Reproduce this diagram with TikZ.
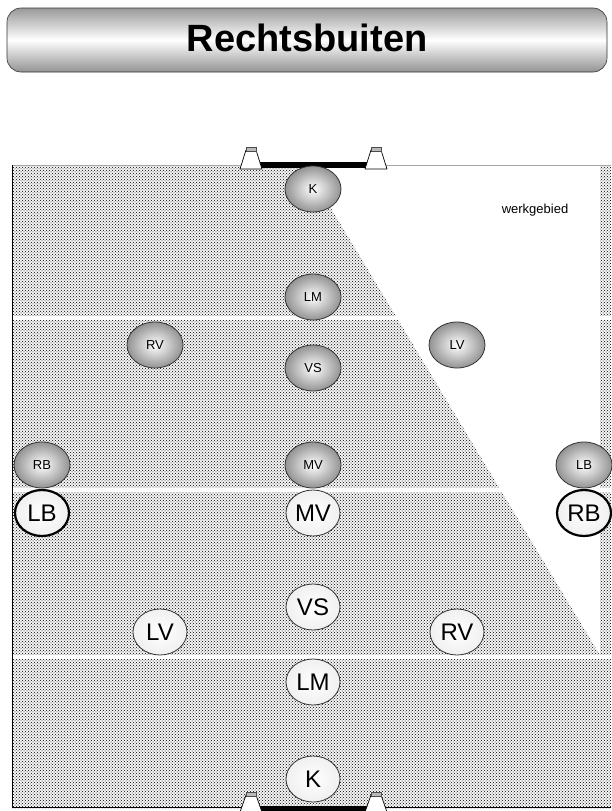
\documentclass[tikz,border=0pt]{standalone}
\usepackage{fontspec}
\setmainfont{Liberation Sans}
\usetikzlibrary{patterns,shapes.geometric}

\tikzset{
  opp/.style={ellipse, minimum width=56pt, minimum height=46pt, inner sep=0pt,
    draw=black!80, line width=0.8pt, inner color=white, outer color=gray!85,
    font=\fontsize{13}{13}\selectfont},
  own/.style={ellipse, minimum width=54pt, minimum height=46pt, inner sep=0pt,
    draw=black!80, line width=0.8pt, inner color=white, outer color=gray!12,
    font=\fontsize{24}{24}\selectfont},
  ownwing/.style={own, draw=black, line width=2.2pt},
  cone/.style={fill=white, draw=black, line width=0.7pt},
  conecap/.style={fill=gray!55, draw=black!70, line width=0.5pt},
  fieldfill/.style={pattern=crosshatch dots, pattern color=black},
  gap/.style={fill=white},
}

\begin{document}
\begin{tikzpicture}[x=1pt, y=-1pt]
  \useasboundingbox (0,0) rectangle (611,811);

  % title bar
  \node[draw=gray!40!black, line width=0.6pt, rounded corners=14pt,
        top color=gray!80, bottom color=gray!85, middle color=white,
        minimum width=600pt, minimum height=64pt, inner sep=0pt]
        (titlebar) at (307,40) {};
  \node[font=\fontsize{38}{38}\selectfont\bfseries] (title) at (307,38) {Rechtsbuiten};

  % pitch surface
  \fill[gray!8] (12,165) rectangle (611,808);
  \fill[fieldfill] (12,165) rectangle (611,808);
  % white working area
  \fill[white] (305,165) -- (600,165) -- (600,655) -- cycle;
  % white gaps between the zones
  \fill[gap] (12,316) rectangle (611,319.5);
  \fill[gap] (12,488) rectangle (611,491.5);
  \fill[gap] (12,655) rectangle (611,658.5);

  % pitch borders
  \draw[gray!70, line width=1pt] (12,165) -- (611,165);
  \draw[black, line width=1.2pt] (12.6,165) -- (12.6,807.4) -- (611,807.4);

  % goals
  \fill[black] (260,162) -- (367,162) -- (367,167.5) -- (260,167.5) -- cycle;
  \fill[black] (260,806) -- (367,806) -- (367,811) -- (260,811) -- cycle;

  % cones
  \foreach \cx in {251,376} {
    \draw[cone] (\cx-11,169) -- (\cx-5,150) -- (\cx+5,150) -- (\cx+11,169) -- cycle;
    \draw[conecap] (\cx-5,147.5) rectangle (\cx+5,151.5);
    \draw[cone] (\cx-12,815) -- (\cx-5,795) -- (\cx+5,795) -- (\cx+12,815);
    \draw[conecap] (\cx-5,792.5) rectangle (\cx+5,796.5);
  }

  \node[font=\fontsize{13}{13}\selectfont] (werk) at (535,210) {werkgebied};

  % opponents
  \node[opp] (oK)  at (313,189) {K};
  \node[opp] (oLM) at (313,297) {LM};
  \node[opp] (oRV) at (155,345) {RV};
  \node[opp] (oLV) at (457,345) {LV};
  \node[opp] (oVS) at (313,368) {VS};
  \node[opp] (oRB) at (42,465) {RB};
  \node[opp] (oMV) at (313,465) {MV};
  \node[opp] (oLB) at (584,465) {LB};

  % own team
  \node[ownwing] (pLB) at (42,513)  {LB};
  \node[own]     (pMV) at (313,513) {MV};
  \node[ownwing] (pRB) at (584,513) {RB};
  \node[own]     (pVS) at (313,607) {VS};
  \node[own]     (pLV) at (160,632) {LV};
  \node[own]     (pRV) at (457,632) {RV};
  \node[own]     (pLM) at (313,682) {LM};
  \node[own]     (pK)  at (313,779) {K};
\end{tikzpicture}
\end{document}
